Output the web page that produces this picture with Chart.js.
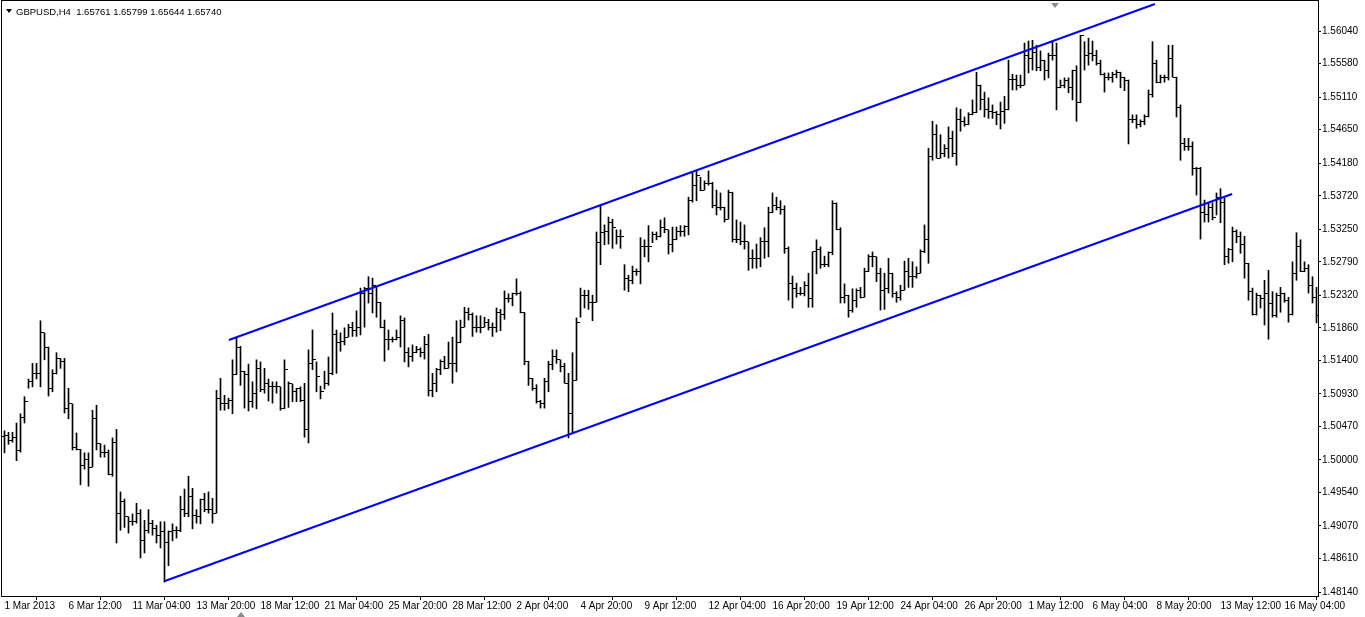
<!DOCTYPE html>
<html>
<head>
<meta charset="utf-8">
<title>GBPUSD,H4</title>
<script src="https://cdn.jsdelivr.net/npm/chart.js@4.4.0/dist/chart.umd.min.js"></script>
<style>
  html, body { margin: 0; padding: 0; background: #fff; overflow: hidden; }
  #wrap { width: 1365px; height: 617px; position: relative; }
</style>
</head>
<body>
<div id="wrap"><canvas id="myChart" width="1365" height="617"></canvas></div>
<script>
const chartTitle = "GBPUSD,H4  1.65761 1.65799 1.65644 1.65740";

// time axis labels and the bar numbers they sit on
const timeLabels = ["1 Mar 2013", "6 Mar 12:00", "11 Mar 04:00", "13 Mar 20:00", "18 Mar 12:00",
  "21 Mar 04:00", "25 Mar 20:00", "28 Mar 12:00", "2 Apr 04:00", "4 Apr 20:00", "9 Apr 12:00",
  "12 Apr 04:00", "16 Apr 20:00", "19 Apr 12:00", "24 Apr 04:00", "26 Apr 20:00", "1 May 12:00",
  "6 May 04:00", "8 May 20:00", "13 May 12:00", "16 May 04:00"];
const timeLabelBars = [0, 16, 32, 48, 64, 80, 96, 112, 128, 144, 160, 176, 192, 208, 224, 240, 256, 272, 288, 304, 320];

// price axis labels
const priceTicks = [1.56040, 1.55580, 1.55110, 1.54650, 1.54180, 1.53720, 1.53250, 1.52790, 1.52320,
  1.51860, 1.51400, 1.50930, 1.50470, 1.50000, 1.49540, 1.49070, 1.48610, 1.48140];

// H4 bars
const opens = [
1.5033,1.5034,1.5027,1.5032,1.5013,1.5060,1.5083,1.5110,1.5122,1.5122,
1.5179,1.5158,1.5101,1.5122,1.5143,1.5138,1.5073,1.5079,1.5017,1.5015,
1.4992,1.5001,1.4990,1.5058,1.5023,1.5010,1.5010,1.4980,1.5024,1.4924,
1.4942,1.4920,1.4913,1.4914,1.4924,1.4886,1.4900,1.4911,1.4903,1.4893,
1.4899,1.4884,1.4899,1.4900,1.4901,1.4930,1.4925,1.4949,1.4922,1.4920,
1.4944,1.4930,1.4930,1.4925,1.5086,1.5079,1.5079,1.5084,1.5120,1.5159,
1.5124,1.5120,1.5083,1.5093,1.5129,1.5099,1.5108,1.5103,1.5103,1.5103,
1.5072,1.5127,1.5108,1.5096,1.5101,1.5084,1.5043,1.5136,1.5141,1.5117,
1.5096,1.5108,1.5122,1.5177,1.5165,1.5167,1.5172,1.5186,1.5182,1.5186,
1.5235,1.5241,1.5235,1.5246,1.5222,1.5186,1.5170,1.5170,1.5170,1.5172,
1.5197,1.5152,1.5146,1.5152,1.5156,1.5152,1.5163,1.5098,1.5108,1.5128,
1.5139,1.5129,1.5136,1.5136,1.5166,1.5187,1.5208,1.5205,1.5186,1.5187,
1.5187,1.5194,1.5187,1.5187,1.5207,1.5205,1.5227,1.5228,1.5234,1.5235,
1.5207,1.5139,1.5114,1.5100,1.5082,1.5080,1.5110,1.5135,1.5146,1.5141,
1.5132,1.5108,1.5066,1.5112,1.5193,1.5231,1.5231,1.5222,1.5222,1.5306,
1.5320,1.5321,1.5335,1.5328,1.5315,1.5314,1.5256,1.5253,1.5265,1.5265,
1.5301,1.5301,1.5300,1.5318,1.5314,1.5327,1.5324,1.5303,1.5310,1.5321,
1.5321,1.5329,1.5365,1.5386,1.5400,1.5380,1.5390,1.5390,1.5359,1.5356,
1.5355,1.5339,1.5376,1.5310,1.5310,1.5308,1.5307,1.5283,1.5284,1.5284,
1.5307,1.5307,1.5348,1.5359,1.5356,1.5353,1.5298,1.5249,1.5242,1.5235,
1.5234,1.5245,1.5228,1.5293,1.5296,1.5275,1.5275,1.5292,1.5361,1.5325,
1.5229,1.5231,1.5211,1.5224,1.5239,1.5229,1.5266,1.5287,1.5286,1.5262,
1.5239,1.5242,1.5263,1.5235,1.5229,1.5238,1.5266,1.5258,1.5258,1.5263,
1.5293,1.5310,1.5428,1.5458,1.5425,1.5432,1.5439,1.5453,1.5432,1.5479,
1.5476,1.5473,1.5486,1.5489,1.5528,1.5507,1.5493,1.5490,1.5489,1.5487,
1.5490,1.5493,1.5536,1.5536,1.5528,1.5528,1.5570,1.5566,1.5574,1.5552,
1.5562,1.5548,1.5569,1.5569,1.5524,1.5527,1.5535,1.5524,1.5549,1.5503,
1.5598,1.5569,1.5573,1.5570,1.5558,1.5543,1.5538,1.5538,1.5543,1.5546,
1.5539,1.5534,1.5480,1.5480,1.5472,1.5476,1.5483,1.5514,1.5558,1.5531,
1.5538,1.5538,1.5565,1.5539,1.5497,1.5446,1.5441,1.5441,1.5411,1.5411,
1.5349,1.5345,1.5355,1.5342,1.5370,1.5362,1.5287,1.5296,1.5321,1.5315,
1.5303,1.5276,1.5237,1.5205,1.5232,1.5227,1.5235,1.5220,1.5204,1.5232,
1.5235,1.5225,1.5205,1.5262,1.5300,1.5265,1.5270,1.5245,1.5229];

const highs = [
1.5041,1.5039,1.5039,1.5052,1.5065,1.5089,1.5114,1.5136,1.5136,1.5196,
1.5179,1.5159,1.5127,1.5151,1.5143,1.5143,1.5101,1.5079,1.5038,1.5015,
1.5010,1.5010,1.5070,1.5077,1.5023,1.5021,1.5014,1.5031,1.5043,1.4955,
1.4945,1.4920,1.4924,1.4939,1.4930,1.4915,1.4930,1.4915,1.4908,1.4913,
1.4913,1.4900,1.4910,1.4906,1.4949,1.4959,1.4977,1.4960,1.4930,1.4945,
1.4953,1.4955,1.4946,1.5098,1.5115,1.5091,1.5087,1.5141,1.5172,1.5160,
1.5125,1.5135,1.5110,1.5141,1.5138,1.5129,1.5114,1.5110,1.5110,1.5103,
1.5141,1.5110,1.5107,1.5101,1.5103,1.5108,1.5155,1.5183,1.5138,1.5104,
1.5125,1.5145,1.5207,1.5183,1.5179,1.5186,1.5191,1.5194,1.5210,1.5242,
1.5243,1.5258,1.5256,1.5243,1.5222,1.5197,1.5183,1.5173,1.5183,1.5203,
1.5200,1.5158,1.5162,1.5160,1.5158,1.5174,1.5177,1.5122,1.5129,1.5141,
1.5146,1.5166,1.5173,1.5196,1.5197,1.5215,1.5214,1.5207,1.5203,1.5203,
1.5201,1.5198,1.5193,1.5214,1.5212,1.5238,1.5234,1.5235,1.5255,1.5237,
1.5208,1.5139,1.5115,1.5106,1.5084,1.5115,1.5139,1.5155,1.5155,1.5141,
1.5136,1.5122,1.5151,1.5200,1.5242,1.5239,1.5239,1.5232,1.5321,1.5359,
1.5331,1.5342,1.5339,1.5324,1.5324,1.5275,1.5260,1.5273,1.5269,1.5313,
1.5310,1.5330,1.5321,1.5321,1.5338,1.5341,1.5324,1.5328,1.5328,1.5330,
1.5330,1.5370,1.5404,1.5408,1.5398,1.5393,1.5407,1.5391,1.5380,1.5376,
1.5356,1.5380,1.5377,1.5338,1.5335,1.5331,1.5307,1.5296,1.5304,1.5313,
1.5327,1.5356,1.5376,1.5370,1.5365,1.5358,1.5300,1.5259,1.5249,1.5243,
1.5251,1.5263,1.5293,1.5310,1.5300,1.5287,1.5293,1.5365,1.5362,1.5327,
1.5248,1.5232,1.5241,1.5241,1.5243,1.5270,1.5289,1.5293,1.5286,1.5270,
1.5263,1.5284,1.5263,1.5237,1.5246,1.5280,1.5284,1.5279,1.5272,1.5296,
1.5331,1.5439,1.5477,1.5472,1.5458,1.5444,1.5469,1.5463,1.5496,1.5494,
1.5483,1.5489,1.5507,1.5546,1.5528,1.5518,1.5510,1.5500,1.5491,1.5504,
1.5512,1.5563,1.5543,1.5542,1.5542,1.5587,1.5590,1.5591,1.5584,1.5576,
1.5563,1.5573,1.5590,1.5587,1.5535,1.5538,1.5538,1.5549,1.5555,1.5598,
1.5589,1.5594,1.5590,1.5577,1.5563,1.5545,1.5545,1.5546,1.5549,1.5546,
1.5539,1.5535,1.5486,1.5486,1.5479,1.5486,1.5521,1.5589,1.5563,1.5542,
1.5542,1.5584,1.5584,1.5539,1.5500,1.5453,1.5453,1.5448,1.5412,1.5412,
1.5366,1.5362,1.5362,1.5376,1.5382,1.5369,1.5298,1.5328,1.5324,1.5321,
1.5315,1.5277,1.5242,1.5235,1.5232,1.5253,1.5267,1.5237,1.5235,1.5243,
1.5235,1.5229,1.5279,1.5320,1.5310,1.5279,1.5275,1.5258,1.5243];

const lows = [
1.5010,1.5022,1.5025,1.4999,1.5011,1.5052,1.5101,1.5103,1.5114,1.5103,
1.5141,1.5090,1.5096,1.5121,1.5129,1.5066,1.5058,1.5014,1.5014,1.4965,
1.4987,1.4963,1.4990,1.5014,1.5004,1.5004,1.4979,1.4977,1.4883,1.4901,
1.4905,1.4897,1.4908,1.4911,1.4862,1.4869,1.4897,1.4894,1.4883,1.4876,
1.4828,1.4851,1.4886,1.4890,1.4899,1.4920,1.4920,1.4903,1.4911,1.4910,
1.4927,1.4925,1.4911,1.4925,1.5070,1.5070,1.5072,1.5065,1.5120,1.5105,
1.5073,1.5069,1.5074,1.5072,1.5096,1.5094,1.5083,1.5080,1.5094,1.5070,
1.5072,1.5074,1.5082,1.5082,1.5082,1.5032,1.5024,1.5127,1.5096,1.5086,
1.5100,1.5105,1.5120,1.5122,1.5153,1.5162,1.5173,1.5174,1.5174,1.5176,
1.5187,1.5221,1.5207,1.5201,1.5186,1.5139,1.5155,1.5166,1.5169,1.5159,
1.5138,1.5131,1.5139,1.5151,1.5145,1.5142,1.5090,1.5089,1.5096,1.5120,
1.5128,1.5129,1.5108,1.5124,1.5165,1.5187,1.5197,1.5174,1.5180,1.5179,
1.5187,1.5183,1.5174,1.5180,1.5182,1.5198,1.5222,1.5217,1.5232,1.5207,
1.5134,1.5105,1.5098,1.5080,1.5073,1.5073,1.5096,1.5127,1.5136,1.5124,
1.5108,1.5031,1.5038,1.5112,1.5201,1.5214,1.5212,1.5196,1.5222,1.5275,
1.5303,1.5304,1.5298,1.5304,1.5298,1.5239,1.5237,1.5248,1.5260,1.5248,
1.5286,1.5279,1.5306,1.5310,1.5314,1.5320,1.5290,1.5293,1.5310,1.5315,
1.5315,1.5317,1.5363,1.5365,1.5379,1.5380,1.5387,1.5355,1.5345,1.5352,
1.5335,1.5339,1.5307,1.5306,1.5303,1.5297,1.5267,1.5270,1.5270,1.5272,
1.5284,1.5286,1.5348,1.5352,1.5346,1.5291,1.5225,1.5214,1.5229,1.5232,
1.5231,1.5215,1.5215,1.5262,1.5270,1.5272,1.5272,1.5289,1.5324,1.5221,
1.5221,1.5201,1.5208,1.5215,1.5228,1.5229,1.5265,1.5272,1.5251,1.5211,
1.5212,1.5235,1.5229,1.5222,1.5225,1.5239,1.5243,1.5243,1.5256,1.5263,
1.5292,1.5277,1.5422,1.5425,1.5425,1.5427,1.5425,1.5427,1.5415,1.5463,
1.5470,1.5472,1.5486,1.5489,1.5493,1.5483,1.5481,1.5481,1.5472,1.5466,
1.5474,1.5493,1.5521,1.5521,1.5524,1.5528,1.5545,1.5549,1.5548,1.5548,
1.5535,1.5538,1.5563,1.5493,1.5524,1.5524,1.5517,1.5507,1.5477,1.5503,
1.5549,1.5556,1.5562,1.5556,1.5542,1.5518,1.5535,1.5532,1.5538,1.5524,
1.5520,1.5445,1.5475,1.5467,1.5469,1.5472,1.5483,1.5511,1.5531,1.5531,
1.5532,1.5535,1.5539,1.5483,1.5422,1.5436,1.5436,1.5401,1.5373,1.5311,
1.5335,1.5335,1.5338,1.5345,1.5334,1.5275,1.5277,1.5279,1.5306,1.5291,
1.5256,1.5225,1.5204,1.5204,1.5214,1.5190,1.5170,1.5201,1.5201,1.5208,
1.5222,1.5194,1.5204,1.5253,1.5265,1.5265,1.5235,1.5221,1.5193];

const closes = [
1.5034,1.5027,1.5032,1.5013,1.5060,1.5083,1.5110,1.5122,1.5122,1.5179,
1.5158,1.5101,1.5122,1.5143,1.5138,1.5073,1.5079,1.5017,1.5015,1.4992,
1.5001,1.4990,1.5058,1.5023,1.5010,1.5010,1.4980,1.5024,1.4924,1.4942,
1.4920,1.4913,1.4914,1.4924,1.4886,1.4900,1.4911,1.4903,1.4893,1.4899,
1.4884,1.4899,1.4900,1.4901,1.4930,1.4925,1.4949,1.4922,1.4920,1.4944,
1.4930,1.4930,1.4925,1.5086,1.5079,1.5079,1.5084,1.5120,1.5159,1.5124,
1.5120,1.5083,1.5093,1.5129,1.5099,1.5108,1.5103,1.5103,1.5103,1.5072,
1.5127,1.5108,1.5096,1.5101,1.5084,1.5043,1.5136,1.5141,1.5117,1.5096,
1.5108,1.5122,1.5177,1.5165,1.5167,1.5172,1.5186,1.5182,1.5186,1.5235,
1.5241,1.5235,1.5246,1.5222,1.5186,1.5170,1.5170,1.5170,1.5172,1.5197,
1.5152,1.5146,1.5152,1.5156,1.5152,1.5163,1.5098,1.5108,1.5128,1.5139,
1.5129,1.5136,1.5136,1.5166,1.5187,1.5208,1.5205,1.5186,1.5187,1.5187,
1.5194,1.5187,1.5187,1.5207,1.5205,1.5227,1.5228,1.5234,1.5235,1.5207,
1.5139,1.5114,1.5100,1.5082,1.5080,1.5110,1.5135,1.5146,1.5141,1.5132,
1.5108,1.5066,1.5112,1.5193,1.5231,1.5231,1.5222,1.5222,1.5306,1.5320,
1.5321,1.5335,1.5328,1.5315,1.5314,1.5256,1.5253,1.5265,1.5265,1.5301,
1.5301,1.5300,1.5318,1.5314,1.5327,1.5324,1.5303,1.5310,1.5321,1.5321,
1.5329,1.5365,1.5386,1.5400,1.5380,1.5390,1.5390,1.5359,1.5356,1.5355,
1.5339,1.5376,1.5310,1.5310,1.5308,1.5307,1.5283,1.5284,1.5284,1.5307,
1.5307,1.5348,1.5359,1.5356,1.5353,1.5298,1.5249,1.5242,1.5235,1.5234,
1.5245,1.5228,1.5293,1.5296,1.5275,1.5275,1.5292,1.5361,1.5325,1.5229,
1.5231,1.5211,1.5224,1.5239,1.5229,1.5266,1.5287,1.5286,1.5262,1.5239,
1.5242,1.5263,1.5235,1.5229,1.5238,1.5266,1.5258,1.5258,1.5263,1.5293,
1.5310,1.5428,1.5458,1.5425,1.5432,1.5439,1.5453,1.5432,1.5479,1.5476,
1.5473,1.5486,1.5489,1.5528,1.5507,1.5493,1.5490,1.5489,1.5487,1.5490,
1.5493,1.5536,1.5536,1.5528,1.5528,1.5570,1.5566,1.5574,1.5552,1.5562,
1.5548,1.5569,1.5569,1.5524,1.5527,1.5535,1.5524,1.5549,1.5503,1.5598,
1.5569,1.5573,1.5570,1.5558,1.5543,1.5538,1.5538,1.5543,1.5546,1.5539,
1.5534,1.5480,1.5480,1.5472,1.5476,1.5483,1.5514,1.5558,1.5531,1.5538,
1.5538,1.5565,1.5539,1.5497,1.5446,1.5441,1.5441,1.5411,1.5411,1.5349,
1.5345,1.5355,1.5342,1.5370,1.5362,1.5287,1.5296,1.5321,1.5315,1.5303,
1.5276,1.5237,1.5205,1.5232,1.5227,1.5235,1.5220,1.5204,1.5232,1.5235,
1.5225,1.5205,1.5262,1.5300,1.5265,1.5270,1.5245,1.5229,1.5204];

// trend channel drawn on the chart (bar number, price)
const upperChannel = [{ x: 56.1, y: 1.51689 }, { x: 287.6, y: 1.56421 }];
const lowerChannel = [{ x: 40.1, y: 1.48295 }, { x: 306.9, y: 1.53745 }];

// little tick images for open (left) and close (right)
function makeTick(side) {
  const c = document.createElement("canvas");
  c.width = 5;
  c.height = 1;
  const g = c.getContext("2d");
  g.fillStyle = "#000";
  if (side === "left") g.fillRect(0, 0, 2, 1);
  else g.fillRect(3, 0, 2, 1);
  return c;
}
const openTick = makeTick("left");
const closeTick = makeTick("right");

const FONT = "'Liberation Sans', Arial, sans-serif";

function noPadding(scale) {
  scale.paddingTop = 0;
  scale.paddingBottom = 0;
  scale.paddingLeft = 0;
  scale.paddingRight = 0;
}

const frameAndTitle = {
  id: "frameAndTitle",
  beforeDatasetsDraw(chart) {
    chart.ctx.imageSmoothingEnabled = false;
  },
  afterDraw(chart) {
    const { ctx, chartArea } = chart;
    ctx.save();
    ctx.strokeStyle = "#000";
    ctx.lineWidth = 1;
    ctx.strokeRect(chartArea.left - 0.5, chartArea.top - 0.5,
      chartArea.right - chartArea.left + 1, chartArea.bottom - chartArea.top + 1);

    // header
    ctx.fillStyle = "#000";
    ctx.beginPath();
    ctx.moveTo(6, 9);
    ctx.lineTo(12, 9);
    ctx.lineTo(9, 13);
    ctx.closePath();
    ctx.fill();
    ctx.font = "9.5px " + FONT;
    ctx.textBaseline = "alphabetic";
    ctx.textAlign = "left";
    ctx.fillText(chartTitle, 16, 15);

    // shift markers
    ctx.fillStyle = "#8c8c8c";
    ctx.beginPath();
    ctx.moveTo(1051, 3);
    ctx.lineTo(1059, 3);
    ctx.lineTo(1055, 8);
    ctx.closePath();
    ctx.fill();
    ctx.beginPath();
    ctx.moveTo(237, 617);
    ctx.lineTo(245, 617);
    ctx.lineTo(241, 612);
    ctx.closePath();
    ctx.fill();
    ctx.restore();
  }
};

const ctx = document.getElementById("myChart").getContext("2d");

new Chart(ctx, {
  type: "bar",
  data: {
    datasets: [
      {
        type: "line",
        label: "upper",
        data: upperChannel,
        borderColor: "#0000ff",
        borderWidth: 2,
        pointRadius: 0,
        tension: 0,
        order: 0,
      },
      {
        type: "line",
        label: "lower",
        data: lowerChannel,
        borderColor: "#0000ff",
        borderWidth: 2,
        pointRadius: 0,
        tension: 0,
        order: 0,
      },
      {
        type: "bar",
        label: "range",
        data: highs.map((h, i) => ({ x: i, y: [lows[i], h] })),
        backgroundColor: "#000",
        borderWidth: 0,
        barThickness: 1,
        grouped: false,
        order: 2,
      },
      {
        type: "line",
        label: "open",
        data: opens.map((v, i) => ({ x: i, y: v })),
        showLine: false,
        pointStyle: openTick,
        pointRadius: 2,
        order: 1,
      },
      {
        type: "line",
        label: "close",
        data: closes.map((v, i) => ({ x: i, y: v })),
        showLine: false,
        pointStyle: closeTick,
        pointRadius: 2,
        order: 1,
      },
    ],
  },
  options: {
    responsive: false,
    animation: false,
    devicePixelRatio: 1,
    layout: { autoPadding: false, padding: { top: 1, left: 2, right: 0, bottom: 0 } },
    plugins: {
      legend: { display: false },
      tooltip: { enabled: false },
    },
    scales: {
      x: {
        type: "linear",
        position: "bottom",
        min: -0.625,
        max: 328.375,
        offset: false,
        grid: { drawOnChartArea: false, drawTicks: true, tickLength: 4, color: "#000" },
        border: { display: false },
        afterBuildTicks(scale) {
          scale.ticks = timeLabelBars.map((v) => ({ value: v }));
        },
        afterFit(scale) {
          scale.height = 21;
          noPadding(scale);
        },
        ticks: {
          autoSkip: false,
          maxRotation: 0,
          align: "start",
          padding: 0,
          color: "#000",
          font: { family: FONT, size: 10 },
          callback: (value, index) => timeLabels[index],
        },
      },
      y: {
        type: "linear",
        position: "right",
        min: 1.48084,
        max: 1.56463,
        grid: { drawOnChartArea: false, drawTicks: true, tickLength: 3, color: "#000" },
        border: { display: false },
        afterBuildTicks(scale) {
          scale.ticks = priceTicks.map((v) => ({ value: v }));
        },
        afterFit(scale) {
          scale.width = 47;
          noPadding(scale);
        },
        ticks: {
          padding: 1,
          color: "#000",
          font: { family: FONT, size: 10 },
          callback: (value) => value.toFixed(5),
        },
      },
    },
  },
  plugins: [frameAndTitle],
});
</script>
</body>
</html>
